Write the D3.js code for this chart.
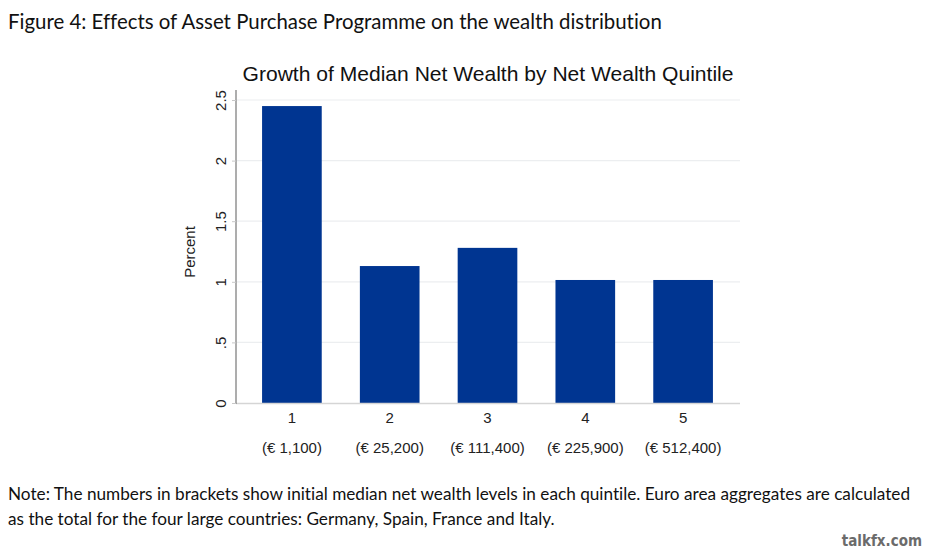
<!DOCTYPE html>
<html>
<head>
<meta charset="utf-8">
<script src="https://cdn.jsdelivr.net/npm/d3@7"></script>
<style>
  body { margin: 0; background: #fff; }
  svg { display: block; }
  text { font-variant-ligatures: none; }
</style>
</head>
<body>
<div id="chart"></div>
<script>
const quintiles = ['1', '2', '3', '4', '5'];
const wealthLabels = ['(€ 1,100)', '(€ 25,200)', '(€ 111,400)', '(€ 225,900)', '(€ 512,400)'];
const growth = [2.45, 1.13, 1.28, 1.015, 1.015];
const yTicks = [0, 0.5, 1, 1.5, 2, 2.5];
const yTickLabels = ['0', '.5', '1', '1.5', '2', '2.5'];

const width = 928;
const height = 552;
const barColor = '#003591';
const axisFont = 'Arial, "Liberation Sans", sans-serif';

const svg = d3.select('#chart')
  .append('svg')
  .attr('width', width)
  .attr('height', height);

// fit a text element into a given width by adjusting font size
const fitText = (sel, targetWidth) => {
  const w = sel.node().getComputedTextLength();
  const size = parseFloat(sel.attr('font-size'));
  sel.attr('font-size', (size * targetWidth / w).toFixed(2));
};

const caption = svg.append('text')
  .attr('x', 8)
  .attr('y', 29)
  .attr('font-family', 'Lato, "Open Sans", sans-serif')
  .attr('font-size', 19)
  .attr('fill', '#111')
  .text('Figure 4: Effects of Asset Purchase Programme on the wealth distribution');
fitText(caption, 654);

const title = svg.append('text')
  .attr('x', 488)
  .attr('y', 81)
  .attr('text-anchor', 'middle')
  .attr('font-family', axisFont)
  .attr('font-size', 20)
  .attr('fill', '#111')
  .text('Growth of Median Net Wealth by Net Wealth Quintile');
fitText(title, 491);

const x = d3.scaleBand()
  .domain(quintiles)
  .range([243, 732])
  .paddingInner(0.39)
  .paddingOuter(0.195);

const y = d3.scaleLinear()
  .domain([0, 2.5])
  .range([403, 100]);

// gridlines
svg.append('g')
  .selectAll('line')
  .data(yTicks.slice(1))
  .join('line')
  .attr('x1', 237)
  .attr('x2', 740)
  .attr('y1', d => y(d))
  .attr('y2', d => y(d))
  .attr('stroke', '#eceef0')
  .attr('stroke-width', 1.2);

// bars
svg.append('g')
  .selectAll('rect')
  .data(growth)
  .join('rect')
  .attr('x', (d, i) => x(quintiles[i]))
  .attr('width', x.bandwidth())
  .attr('y', d => y(d))
  .attr('height', d => y(0) - y(d))
  .attr('fill', barColor);

// baseline
svg.append('line')
  .attr('x1', 236)
  .attr('x2', 740)
  .attr('y1', y(0) + 0.5)
  .attr('y2', y(0) + 0.5)
  .attr('stroke', '#d5d5d5')
  .attr('stroke-width', 1.5);

// y axis
const yAxis = svg.append('g')
  .attr('transform', 'translate(236,0)')
  .call(d3.axisLeft(y)
    .tickValues(yTicks)
    .tickSize(4)
    .tickFormat((d, i) => yTickLabels[i]));
yAxis.select('.domain')
  .attr('stroke', '#8a8a8a')
  .attr('stroke-width', 1.4)
  .attr('d', 'M0,' + (y(2.5) - 10) + 'V' + (y(0) + 1));
yAxis.selectAll('.tick line').attr('stroke', '#c8c8c8');
yAxis.selectAll('.tick text')
  .attr('font-family', axisFont)
  .attr('font-size', 15)
  .attr('fill', '#222')
  .attr('x', null)
  .attr('dy', null)
  .attr('text-anchor', 'middle')
  .attr('transform', 'translate(-10,0) rotate(-90)');

svg.append('text')
  .attr('transform', 'translate(195,252) rotate(-90)')
  .attr('text-anchor', 'middle')
  .attr('font-family', axisFont)
  .attr('font-size', 15)
  .attr('fill', '#222')
  .text('Percent');

// x axis labels
const xAxis = svg.append('g')
  .attr('transform', 'translate(0,' + (y(0) + 2) + ')')
  .call(d3.axisBottom(x).tickSize(0).tickPadding(7));
xAxis.select('.domain').remove();
xAxis.selectAll('.tick text')
  .attr('font-family', axisFont)
  .attr('font-size', 15)
  .attr('fill', '#222');
xAxis.selectAll('.tick')
  .append('text')
  .attr('y', 48)
  .attr('text-anchor', 'middle')
  .attr('font-family', axisFont)
  .attr('font-size', 15)
  .attr('fill', '#222')
  .text((d, i) => wealthLabels[i]);

// note
const note1 = svg.append('text')
  .attr('x', 8)
  .attr('y', 500)
  .attr('font-family', 'Lato, "Open Sans", sans-serif')
  .attr('font-size', 16)
  .attr('fill', '#111')
  .text('Note: The numbers in brackets show initial median net wealth levels in each quintile. Euro area aggregates are calculated');
fitText(note1, 903);
svg.append('text')
  .attr('x', 8)
  .attr('y', 525)
  .attr('font-family', 'Lato, "Open Sans", sans-serif')
  .attr('font-size', note1.attr('font-size'))
  .attr('fill', '#111')
  .text('as the total for the four large countries: Germany, Spain, France and Italy.');

svg.append('text')
  .attr('x', 922)
  .attr('y', 546)
  .attr('text-anchor', 'end')
  .attr('font-family', '"DejaVu Sans Condensed", "DejaVu Sans", sans-serif')
  .attr('font-weight', 'bold')
  .attr('font-size', 15)
  .attr('fill', '#6b6b6b')
  .text('talkfx.com');
</script>
</body>
</html>
